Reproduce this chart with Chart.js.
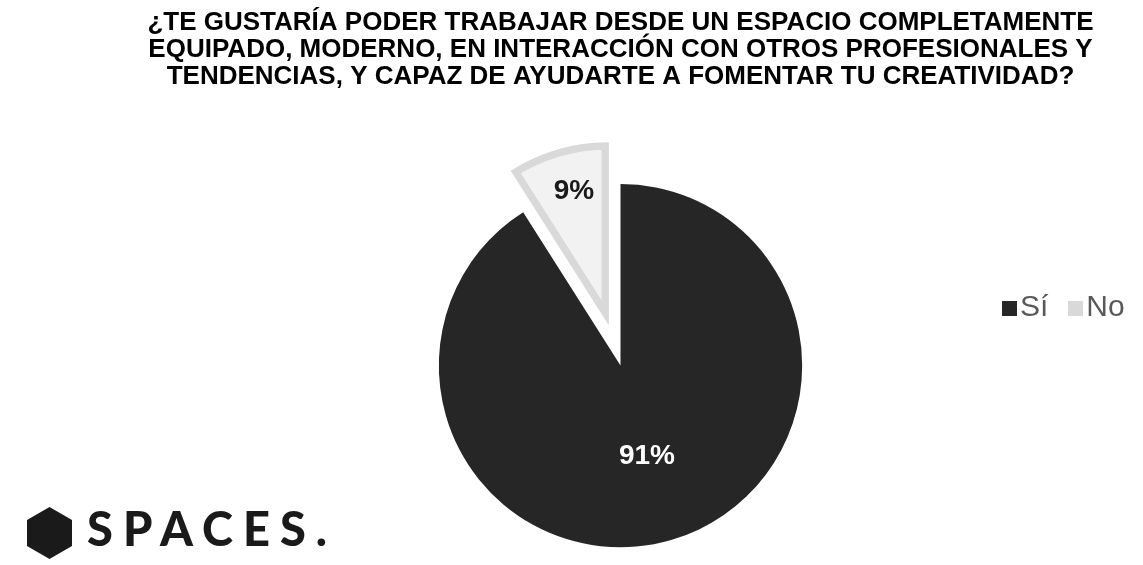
<!DOCTYPE html>
<html lang="es">
  <head>
    <meta charset="UTF-8" />
    <meta name="viewport" content="width=device-width, initial-scale=1.0" />
    <title>Espacio de trabajo</title>
    <script src="https://cdn.jsdelivr.net/npm/chart.js@4.4.1/dist/chart.umd.min.js"></script>
    <style>
      body {
        margin: 0;
        background: #fff;
        overflow: hidden;
        font-family: "Liberation Sans", Arial, sans-serif;
      }
      .wrapper {
        position: relative;
        width: 1143px;
        height: 565px;
        overflow: hidden;
      }
      /* canvas is taller than the window so the pie centre sits lower */
      .chart-box {
        position: absolute;
        left: 0;
        top: 0;
        width: 1143px;
        height: 631px;
      }
      .legend {
        position: absolute;
        left: 1002px;
        top: 291px;
        font-size: 30px;
        line-height: 30px;
        color: #595959;
        white-space: nowrap;
      }
      .legend span.box {
        display: inline-block;
        width: 15px;
        height: 15px;
        margin-right: 3px;
      }
      .legend span.item {
        margin-right: 20px;
      }
      .logo {
        position: absolute;
        left: 27px;
        top: 505px;
        display: flex;
        align-items: center;
      }
      .logo span {
        font-family: "Lato", sans-serif;
        font-weight: 900;
        font-size: 47px;
        letter-spacing: 10px;
        color: #1a1a1a;
        margin-left: 15px;
        position: relative;
        top: -5px;
      }
    </style>
  </head>

  <body>
    <div class="wrapper">
      <div class="chart-box">
        <canvas id="pieChart"></canvas>
      </div>
      <div class="legend" id="legend"></div>
      <div class="logo">
        <svg width="45" height="52" viewBox="0 0 45 52">
          <polygon points="22.5,0 45,13 45,39 22.5,52 0,39 0,13" fill="#1a1a1a" />
        </svg>
        <span>SPACES.</span>
      </div>
    </div>

    <script>
      const titleLines = [
        "¿TE GUSTARÍA PODER TRABAJAR DESDE UN ESPACIO COMPLETAMENTE",
        "EQUIPADO, MODERNO, EN INTERACCIÓN CON OTROS PROFESIONALES Y",
        "TENDENCIAS, Y CAPAZ DE AYUDARTE A FOMENTAR TU CREATIVIDAD?",
      ];
      const labels = ["Sí", "No"];
      const values = [91, 9];

      const fillColors = ["#262626", "#f2f2f2"];
      const edgeColors = ["#262626", "#d9d9d9"];
      const explode = [0, 43]; // pulled-out distance per slice, px

      // legend built from the same arrays
      const legendEl = document.getElementById("legend");
      labels.forEach((lab, i) => {
        const item = document.createElement("span");
        item.className = "item";
        item.innerHTML = '<span class="box" style="background:' + edgeColors[i] + '"></span>' + lab;
        legendEl.appendChild(item);
      });

      // Chart.js offset also grows the slice, so move the arcs ourselves
      const explodeSlices = {
        id: "explodeSlices",
        beforeDatasetDraw(chart, args) {
          const ctx = chart.ctx;
          args.meta.data.forEach((arc, i) => {
            const mid = (arc.startAngle + arc.endAngle) / 2;
            ctx.save();
            ctx.translate(Math.cos(mid) * explode[i], Math.sin(mid) * explode[i]);
            arc.draw(ctx, chart.chartArea);
            ctx.restore();
          });
          return false;
        },
      };

      // percentage labels inside the slices
      const pctLabels = {
        id: "pctLabels",
        afterDatasetsDraw(chart) {
          const ctx = chart.ctx;
          const meta = chart.getDatasetMeta(0);
          const total = values.reduce((a, b) => a + b, 0);
          meta.data.forEach((arc, i) => {
            const mid = (arc.startAngle + arc.endAngle) / 2;
            const k = i === 0 ? 0.52 : 0.76;
            const dist = explode[i] + arc.outerRadius * k;
            const x = arc.x + Math.cos(mid) * dist;
            const y = arc.y + Math.sin(mid) * dist;
            ctx.save();
            ctx.font = "bold 28px 'Liberation Sans', Arial, sans-serif";
            ctx.fillStyle = i === 0 ? "#ffffff" : "#1a1a1a";
            ctx.textAlign = "center";
            ctx.textBaseline = "middle";
            ctx.fillText(Math.round((values[i] / total) * 100) + "%", x + (i === 0 ? 0 : 4), y);
            ctx.restore();
          });
        },
      };

      const ctx = document.getElementById("pieChart").getContext("2d");
      new Chart(ctx, {
        type: "pie",
        data: {
          labels: labels,
          datasets: [
            {
              data: values,
              backgroundColor: fillColors,
              borderColor: edgeColors,
              borderWidth: [0, 7],
              borderAlign: "inner",
              radius: 182,
            },
          ],
        },
        options: {
          responsive: true,
          maintainAspectRatio: false,
          animation: false,
          events: [],
          layout: {
            padding: { left: 98, right: 0, top: 0, bottom: 0 },
          },
          plugins: {
            legend: { display: false },
            tooltip: { enabled: false },
            title: {
              display: true,
              text: titleLines,
              color: "#000",
              font: { family: "'Liberation Sans', Arial, sans-serif", size: 26, weight: "bold", lineHeight: 1.04 },
              padding: { top: 9, bottom: 10 },
            },
          },
        },
        plugins: [explodeSlices, pctLabels],
      });
    </script>
  </body>
</html>
